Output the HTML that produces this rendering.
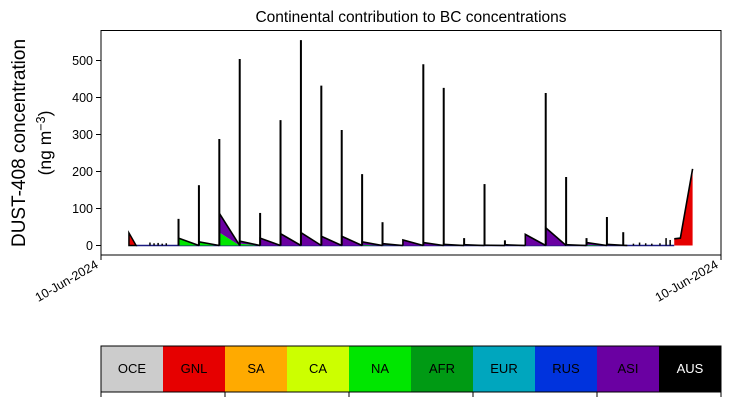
<!DOCTYPE html>
<html><head><meta charset="utf-8"><style>
body{margin:0;background:#fff}
svg{display:block;font-family:"Liberation Sans","DejaVu Sans",sans-serif}
</style></head><body>
<svg id="c" width="730" height="402" viewBox="0 0 730 402">
<text x="411" y="22" font-size="15.5" text-anchor="middle">Continental contribution to BC concentrations</text>
<g id="plot"></g>
<rect x="101" y="30.5" width="620" height="224.5" fill="none" stroke="#000" stroke-width="1"/>
<g id="yax"></g>
<text transform="translate(25,143) rotate(-90)" font-size="19" text-anchor="middle">DUST-408 concentration</text>
<text transform="translate(51,143) rotate(-90)" font-size="17.5" text-anchor="middle">(ng m<tspan dy="-6" font-size="12.5">−3</tspan><tspan dy="6">)</tspan></text>
<g>
<line x1="101" y1="255" x2="101" y2="260" stroke="#000"/>
<line x1="721" y1="255" x2="721" y2="260" stroke="#000"/>
<text transform="translate(99,267) rotate(-30)" font-size="12.5" text-anchor="end">10-Jun-2024</text>
<text transform="translate(719,267) rotate(-30)" font-size="12.5" text-anchor="end">10-Jun-2024</text>
</g>
<g id="cbar"></g>
</svg>
<script>
const spikeDays=[4,5,6,7,8,9,10,11,12,13,14,16,17,18,19,20,22,23,24,25,25.8];
const spikeVals=[72,163,288,504,88,339,555,432,312,193,63,490,426,20,166,14,412,185,20,77,36];
const segDays=[4,5,6,7,8,9,10,11,12,13,14,15,16,17,18,19,20,21,22,23,24,25];
const segGreen=[20,10,35,5,0,0,0,0,0,2,1,0,0,0,0,0,0,0,0,0,2,0];
const segPurple=[0,0,52,7,20,32,35,25,25,8,4,15,8,3,2,1,2,30,48,2,6,3];
const noiseDays=[2.6,2.8,3.0,3.2,3.4,26.3,26.6,26.9,27.2,27.6,27.9,28.1];
const noiseVals=[8,6,7,5,6,5,8,6,5,6,20,15];
const redStartDays=[1.57,1.92];
const redStartVals=[34,0];
const redEndDays=[28.3,28.6,29.2];
const redEndVals=[18,20,207];
const cats=["OCE","GNL","SA","CA","NA","AFR","EUR","RUS","ASI","AUS"];
const catColors=["#cccccc","#e60000","#ffaa00","#ccff00","#00e600","#009a14","#00a6be","#0033dd","#6a00a2","#000000"];
const yTicks=[0,100,200,300,400,500];

const NS="http://www.w3.org/2000/svg";
const X=t=>101+20.4*(t-0.2);
const Y=v=>245.5-0.37*v;
function mk(tag,attrs,parent){const e=document.createElementNS(NS,tag);for(const k in attrs)e.setAttribute(k,attrs[k]);parent.appendChild(e);return e;}
const plot=document.getElementById('plot');
mk('line',{x1:X(1.92),y1:Y(0),x2:X(28.3),y2:Y(0),stroke:'#1a1a80','stroke-width':1.5},plot);
let p=redStartDays.map((d,i)=>X(d)+','+Y(redStartVals[i])).join(' ');
let e=mk('polygon',{points:X(redStartDays[0])+','+Y(0)+' '+p,fill:'#e60000',stroke:'#000','stroke-width':1.5},plot);


segDays.forEach((d,i)=>{
  const x0=X(d),x1=X(d+1),g=segGreen[i],pu=segPurple[i];
  if(g>0){const a=mk('polygon',{points:`${x0},${Y(0)} ${x0},${Y(g)} ${x1},${Y(0)}`,fill:'#00e600'},plot);
    
    }
  if(pu>0){const a=mk('polygon',{points:`${x0},${Y(g)} ${x0},${Y(g+pu)} ${x1},${Y(0)}`,fill:'#6a00a2'},plot);
    
    }
  const l=mk('polyline',{points:`${x0},${Y(0)} ${x0},${Y(g+pu)} ${x1},${Y(0)}`,fill:'none',stroke:'#000','stroke-width':1.6},plot);
  
  
});
noiseDays.forEach((d,i)=>{const l=mk('line',{x1:X(d),y1:Y(0),x2:X(d),y2:Y(noiseVals[i]),stroke:'#000','stroke-width':1.5},plot);
  
  });
p=redEndDays.map((d,i)=>X(d)+','+Y(redEndVals[i])).join(' ');
e=mk('polygon',{points:X(redEndDays[0])+','+Y(0)+' '+p+' '+X(redEndDays[2])+','+Y(0),fill:'#e60000'},plot);


e=mk('polyline',{points:p,fill:'none',stroke:'#000','stroke-width':1.6},plot);


spikeDays.forEach((d,i)=>{const l=mk('line',{x1:X(d),y1:Y(0),x2:X(d),y2:Y(spikeVals[i]),stroke:'#000','stroke-width':2},plot);
  
  });
const yax=document.getElementById('yax');
yTicks.forEach(v=>{mk('line',{x1:96,y1:Y(v),x2:101,y2:Y(v),stroke:'#000'},yax);
  const t=mk('text',{x:93,y:Y(v)+4.5,'font-size':12.5,'text-anchor':'end'},yax);t.textContent=v;
  
  });
const cb=document.getElementById('cbar');
cats.forEach((c,i)=>{const r=mk('rect',{x:101+62*i,y:346,width:62,height:46,fill:catColors[i]},cb);
  
  
  const t=mk('text',{x:132+62*i,y:373,'font-size':13,'text-anchor':'middle',fill:c==='AUS'?'#fff':'#000'},cb);t.textContent=c;
  
  });
mk('rect',{x:101,y:346,width:620,height:46,fill:'none',stroke:'#000'},cb);
for(let i=0;i<=5;i++)mk('line',{x1:101+124*i,y1:392,x2:101+124*i,y2:397,stroke:'#000'},cb);
</script>
</body></html>
